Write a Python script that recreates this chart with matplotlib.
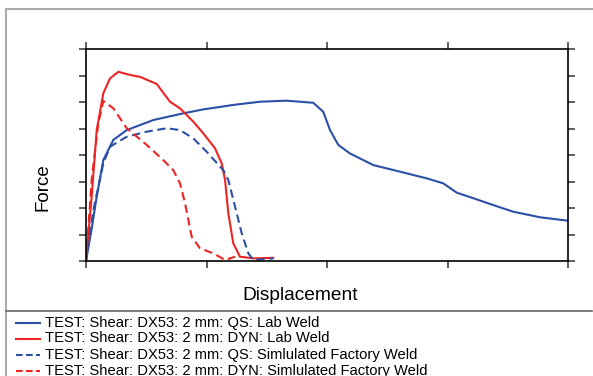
import matplotlib
matplotlib.use("Agg")
import matplotlib.pyplot as plt
from matplotlib.lines import Line2D

plt.rcParams['font.family'] = ['Liberation Sans', 'DejaVu Sans']

# Data (arbitrary units)
qs_lab_x = [0.0, 0.05, 0.089, 0.144, 0.227, 0.338, 0.559, 0.805, 0.973, 1.223, 1.444, 1.666, 1.886,
            1.969, 2.025, 2.094, 2.19, 2.384, 2.606, 2.827, 2.965, 3.076, 3.214, 3.38, 3.546, 3.768, 4.0]
qs_lab_y = [0.0, 1.3, 2.43, 3.81, 4.57, 4.94, 5.32, 5.57, 5.72, 5.89, 6.01, 6.05, 5.97,
            5.63, 4.94, 4.38, 4.06, 3.62, 3.37, 3.12, 2.93, 2.58, 2.37, 2.11, 1.86, 1.65, 1.52]

dyn_lab_x = [0.0, 0.047, 0.089, 0.144, 0.199, 0.268, 0.365, 0.448, 0.587, 0.697, 0.78, 0.89, 0.973,
             1.071, 1.126, 1.154, 1.181, 1.222, 1.278, 1.388, 1.554]
dyn_lab_y = [0.0, 2.43, 4.94, 6.33, 6.89, 7.14, 7.02, 6.95, 6.68, 6.01, 5.76, 5.26, 4.82,
             4.25, 3.69, 3.06, 1.8, 0.67, 0.16, 0.10, 0.12]

qs_fac_x = [0.0, 0.061, 0.144, 0.199, 0.338, 0.504, 0.67, 0.78, 0.89, 1.002, 1.139, 1.181, 1.237,
            1.292, 1.347, 1.388, 1.444, 1.554]
qs_fac_y = [0.0, 1.92, 3.69, 4.31, 4.69, 4.88, 5.01, 4.94, 4.63, 4.12, 3.43, 3.06, 2.05,
            1.05, 0.29, 0.04, 0.06, 0.10]

dyn_fac_x = [0.0, 0.047, 0.102, 0.144, 0.227, 0.338, 0.504, 0.641, 0.724, 0.78, 0.822, 0.877, 0.946,
             1.056, 1.154, 1.237]
dyn_fac_y = [0.0, 3.06, 5.2, 6.04, 5.76, 5.01, 4.38, 3.81, 3.43, 2.93, 2.18, 0.92, 0.48,
             0.29, 0.04, 0.16]

labels = ["TEST: Shear: DX53: 2 mm: QS: Lab Weld",
          "TEST: Shear: DX53: 2 mm: DYN: Lab Weld",
          "TEST: Shear: DX53: 2 mm: QS: Simlulated Factory Weld",
          "TEST: Shear: DX53: 2 mm: DYN: Simlulated Factory Weld"]

W, H = 593, 376
fig = plt.figure(figsize=(W / 100, H / 100), dpi=100)
ax = fig.add_axes([86 / W, 1 - 261 / H, (568 - 86) / W, (261 - 49) / H])

blue = '#2b4fa6'
red = '#ee2424'
lw = 1.5
dash = (0, (4, 2.2))
h1, = ax.plot(qs_lab_x, qs_lab_y, color=blue, lw=lw)
h2, = ax.plot(dyn_lab_x, dyn_lab_y, color=red, lw=lw)
h3, = ax.plot(qs_fac_x, qs_fac_y, color=blue, lw=lw, linestyle=dash)
h4, = ax.plot(dyn_fac_x, dyn_fac_y, color=red, lw=lw, linestyle=dash)
handles = [h1, h2, h3, h4]

ax.set_xlim(0, 4)
ax.set_ylim(0, 8)
ax.set_xticks([0, 1, 2, 3, 4])
ax.set_yticks(range(9))
ax.tick_params(direction='out', length=5, width=1.2, color='#444444',
               top=True, right=True, labelbottom=False, labelleft=False)
for s in ax.spines.values():
    s.set_linewidth(1.2)
    s.set_color('black')

fig.text(43 / W, 1 - 187 / H, "Force", rotation=90, ha='center', va='center', fontsize=13.5)
fig.text(300 / W, 1 - 295 / H, "Displacement", ha='center', va='center', fontsize=13.8)

# frame lines
fig.add_artist(Line2D([5.5 / W, 5.5 / W], [0, 1 - 8.5 / H], color='#aaaaaa', lw=1.5, transform=fig.transFigure))
fig.add_artist(Line2D([5.5 / W, 1], [1 - 8.5 / H, 1 - 8.5 / H], color='#aaaaaa', lw=1.5, transform=fig.transFigure))
fig.add_artist(Line2D([5.5 / W, 592 / W], [1 - 311 / H, 1 - 311 / H], color='#666666', lw=1.2, transform=fig.transFigure))

# legend (drawn manually for exact row spacing)
for i, (h, lab) in enumerate(zip(handles, labels)):
    yc = 1 - (322.5 + 16 * i) / H
    fig.add_artist(Line2D([16 / W, 40 / W], [yc, yc], color=h.get_color(), lw=lw,
                          linestyle=h.get_linestyle(), dashes=(3.2, 1.6) if h.get_linestyle() == '--' else (None, None),
                          transform=fig.transFigure))
    fig.text(45 / W, yc, lab, ha='left', va='center', fontsize=10.6)

fig.savefig("out.png", dpi=100)
